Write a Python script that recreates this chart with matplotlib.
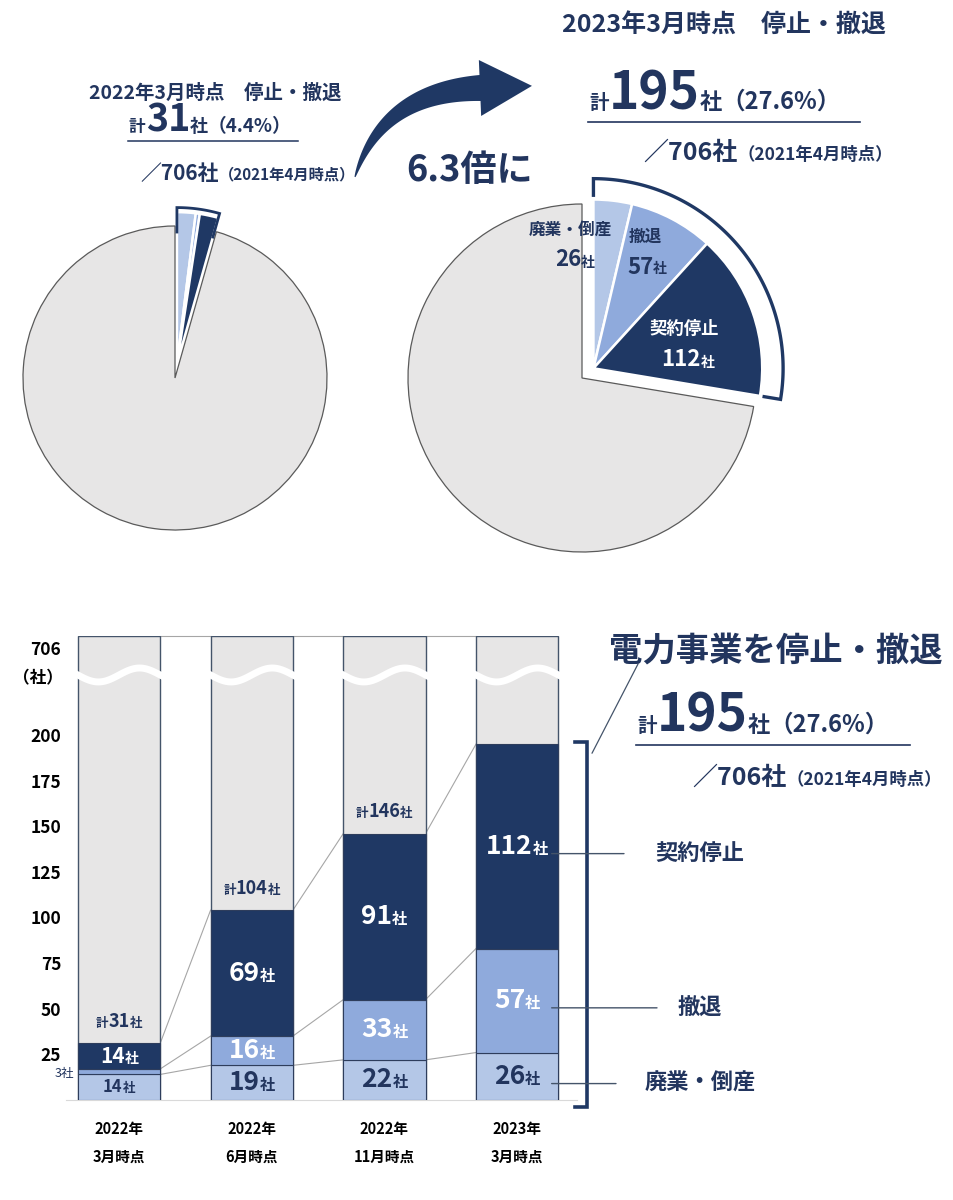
import numpy as np
import matplotlib
matplotlib.use('Agg')
import matplotlib.pyplot as plt
from matplotlib.offsetbox import TextArea, HPacker, AnnotationBbox
from matplotlib.patches import ConnectionPatch
from matplotlib.transforms import blended_transform_factory as blend

FONT = ['Noto Sans CJK JP', 'DejaVu Sans']
plt.rcParams['font.family'] = FONT

# ---------------- data ----------------
period_year = ['2022年', '2022年', '2022年', '2023年']
period_month = ['3月時点', '6月時点', '11月時点', '3月時点']
haigyo = [14, 19, 22, 26]    # 廃業・倒産
tettai = [3, 16, 33, 57]     # 撤退
teishi = [14, 69, 91, 112]   # 契約停止
base_total = 706             # 2021年4月時点
yticks = [25, 50, 75, 100, 125, 150, 175, 200]
seg_names = ['廃業・倒産', '撤退', '契約停止']

NAVY = '#1F3864'
MED = '#8FAADC'
LIGHT = '#B4C7E7'
GRAY = '#E7E6E6'
TXT = '#22355E'

W, H = 954, 1200
fig = plt.figure(figsize=(W / 100, H / 100), dpi=100)


def fr(px, py, w, h):
    return [px / W, 1 - (py + h) / H, w / W, h / H]


ov = fig.add_axes([0, 0, 1, 1], zorder=10)
ov.set_xlim(0, W)
ov.set_ylim(H, 0)
ov.axis('off')


def mtext(ax, xy, parts, coords, align=(0.5, 0.5), color=TXT, weight='bold', offset=None):
    kids = [TextArea(s, textprops=dict(fontsize=fs, color=color, fontweight=weight))
            for s, fs in parts]
    box = HPacker(children=kids, align='baseline', pad=0, sep=0)
    kw = {}
    if offset is not None:
        kw = dict(xybox=offset, boxcoords='offset pixels')
    ab = AnnotationBbox(box, xy, xycoords=coords, box_alignment=align,
                        frameon=False, pad=0, annotation_clip=False, **kw)
    ax.add_artist(ab)
    return ab


totals = [a + b + c for a, b, c in zip(haigyo, tettai, teishi)]


# ---------------- pies ----------------
def draw_pie(cx, cy, r, idx, shift_px, r_col, br_r, br_in, lw_br, lim=1.35):
    vals = [haigyo[idx], tettai[idx], teishi[idx]]
    rest = base_total - sum(vals)
    side = 2 * lim * r
    ax = fig.add_axes(fr(cx - lim * r, cy - lim * r, side, side))
    wedges, _ = ax.pie(vals + [rest], colors=[LIGHT, MED, NAVY, GRAY], startangle=90,
                       counterclock=False,
                       wedgeprops=dict(edgecolor='white', linewidth=1.8))
    frac = sum(vals) / base_total
    a_end = np.deg2rad(90 - 360 * frac)
    mid = np.deg2rad(90 - 180 * frac)
    d = shift_px / r
    c = (d * np.cos(mid), d * np.sin(mid))
    for w in wedges[:3]:
        w.set_center(c)
        w.set_radius(r_col)
    wedges[3].set_edgecolor('#5A5A5A')
    wedges[3].set_linewidth(0.9)
    th = np.linspace(np.pi / 2, a_end, 120)
    bx = np.concatenate([[c[0] + br_in * np.cos(np.pi / 2)], c[0] + br_r * np.cos(th),
                         [c[0] + br_in * np.cos(a_end)]])
    by = np.concatenate([[c[1] + br_in * np.sin(np.pi / 2)], c[1] + br_r * np.sin(th),
                         [c[1] + br_in * np.sin(a_end)]])
    ax.plot(bx, by, color=NAVY, lw=lw_br, solid_joinstyle='miter', solid_capstyle='butt')
    ax.set_xlim(-lim, lim)
    ax.set_ylim(-lim, lim)
    ax.set_aspect('equal')
    ax.axis('off')
    return ax


draw_pie(175, 378, 152, 0, 14, 1.0, 1.03, 0.86, 2.0)
draw_pie(582, 378, 174, 3, 15, 0.97, 1.09, 0.985, 2.4)

# pie labels (right)
ov.text(570, 230, seg_names[0], ha='center', va='center', fontsize=12, color=TXT, fontweight='bold')
mtext(ov, (575, 260), [(str(haigyo[3]), 16), ('社', 10)], 'data')
ov.text(645, 237, seg_names[1], ha='center', va='center', fontsize=12, color=TXT, fontweight='bold')
mtext(ov, (647, 267), [(str(tettai[3]), 16), ('社', 10)], 'data')
ov.text(684, 329, seg_names[2], ha='center', va='center', fontsize=12.5, color='white', fontweight='bold')
mtext(ov, (688, 360), [(str(teishi[3]), 16), ('社', 10)], 'data', color='white')

# top texts
pct0 = totals[0] / base_total * 100
pct3 = totals[3] / base_total * 100
ov.text(215, 93, '2022年3月時点　停止・撤退', ha='center', va='center', fontsize=14,
        color=TXT, fontweight='bold')
mtext(ov, (129, 140), [('計', 12), (str(totals[0]), 27), ('社', 13), (f'（{pct0:.1f}%）', 13.5)],
      'data', align=(0, 0))
ov.plot([128, 298], [141, 141], color=TXT, lw=1.1)
mtext(ov, (140, 173), [('／706社', 15), ('（2021年4月時点）', 11)], 'data', align=(0, 0.5))

ov.text(724, 26, '2023年3月時点　停止・撤退', ha='center', va='center', fontsize=18,
        color=TXT, fontweight='bold')
mtext(ov, (589, 120), [('計', 14), (str(totals[3]), 37), ('社', 16), (f'（{pct3:.1f}%）', 17)],
      'data', align=(0, 0))
ov.plot([588, 860], [122, 122], color=TXT, lw=1.2)
mtext(ov, (643, 153), [('／706社', 18), ('（2021年4月時点）', 12.5)], 'data', align=(0, 0.5))

ratio = totals[3] / totals[0]
ov.text(470, 170, f'{ratio:.1f}倍に', ha='center', va='center', fontsize=26, color=TXT,
        fontweight='bold')

# curved tapering arrow (decoration, pixel layout)
P0 = np.array([355.0, 177.0])
P1 = np.array([382.0, 92.0])
P2 = np.array([480.0, 88.0])
tt = np.linspace(0, 1, 80)[:, None]
B = (1 - tt) ** 2 * P0 + 2 * (1 - tt) * tt * P1 + tt ** 2 * P2
D = 2 * (1 - tt) * (P1 - P0) + 2 * tt * (P2 - P1)
D = D / np.linalg.norm(D, axis=1, keepdims=True)
N = np.column_stack([-D[:, 1], D[:, 0]])
wid = 1.0 + 25.0 * tt[:, 0] ** 0.8
up = B + N * (wid[:, None] / 2)
lo = B - N * (wid[:, None] / 2)
de, ne = D[-1], N[-1]
head = np.array([P2 + ne * 28, P2 + de * 52, P2 - ne * 28])
poly = np.vstack([up, head, lo[::-1]])
ov.fill(poly[:, 0], poly[:, 1], color=NAVY, lw=0)

# ---------------- bars ----------------
axb = fig.add_axes(fr(64, 636, 519.5, 464))
k = 0.1072


def fwd(y):
    y = np.asarray(y, float)
    return np.where(y <= 200, y, 200 + (y - 200) * k)


def inv(t):
    t = np.asarray(t, float)
    return np.where(t <= 200, t, 200 + (t - 200) / k)


axb.set_yscale('function', functions=(fwd, inv))
x = np.arange(len(period_year))
bw = 0.62
b1 = np.array(haigyo)
b2 = b1 + np.array(tettai)
b3 = b2 + np.array(teishi)
axb.bar(x, base_total, bw, color=GRAY, edgecolor='#44546A', lw=1.0, zorder=2)
axb.bar(x, haigyo, bw, color=LIGHT, edgecolor='#2E3D5C', lw=0.8, zorder=3)
axb.bar(x, tettai, bw, bottom=b1, color=MED, edgecolor='#2E3D5C', lw=0.8, zorder=3)
axb.bar(x, teishi, bw, bottom=b2, color=NAVY, edgecolor='#2E3D5C', lw=0.8, zorder=3)
axb.set_ylim(0, base_total)
axb.set_xlim(-0.4145, 3.5)

# connecting lines
for lev in [b1, b2, b3, np.full(4, base_total)]:
    for i in range(len(x) - 1):
        axb.plot([x[i] + bw / 2, x[i + 1] - bw / 2], [lev[i], lev[i + 1]], color='#A6A6A6',
                 lw=0.8, zorder=1, clip_on=False)

# wave breaks
tw = blend(axb.transData, axb.transAxes)
for i in x:
    t = np.linspace(-0.06, 1.06, 80)
    xs = i - bw / 2 + t * bw
    ys = 0.916 - 0.015 * np.sin(2 * np.pi * t)
    axb.plot(xs, ys, color='white', lw=5, transform=tw, zorder=5, clip_on=False,
             solid_capstyle='butt')

axb.set_yticks(yticks)
axb.set_yticklabels([str(v) for v in yticks], fontsize=12.5, fontweight='bold')
axb.set_xticks(x)
axb.set_xticklabels([f'{a}\n{b}' for a, b in zip(period_year, period_month)], fontsize=10.5,
                    fontweight='bold', linespacing=1.9)
axb.tick_params(length=0, pad=2)
axb.tick_params(axis='x', pad=15)
for s in ['top', 'right', 'left']:
    axb.spines[s].set_visible(False)
axb.spines['bottom'].set_color('#D9D9D9')
axb.spines['bottom'].set_bounds(-0.4, 3.45)
ty = blend(axb.transAxes, axb.transData)
axb.annotate('706', xy=(0, base_total), xycoords=ty, xytext=(-3, -14), textcoords='offset pixels',
             ha='right', va='center', fontsize=12.5, fontweight='bold')
axb.annotate('（社）', xy=(0, base_total), xycoords=ty, xytext=(-1, -42), textcoords='offset pixels',
             ha='right', va='center', fontsize=12, fontweight='bold')

# value labels
for i in x:
    if i == 0:
        mtext(axb, (i, b2[i] + teishi[i] / 2), [(str(teishi[i]), 15), ('社', 10)], 'data',
              color='white')
        mtext(axb, (i, haigyo[i] / 2), [(str(haigyo[i]), 12), ('社', 9)], 'data')
        axb.annotate(f'{tettai[i]}社', xy=(i - bw / 2, b1[i] + tettai[i] / 2), xycoords='data',
                     xytext=(-4, -2), textcoords='offset pixels', ha='right', va='center',
                     fontsize=9, color=TXT)
    else:
        mtext(axb, (i, b2[i] + teishi[i] / 2), [(str(teishi[i]), 19), ('社', 11)], 'data',
              color='white')
        mtext(axb, (i, b1[i] + tettai[i] / 2), [(str(tettai[i]), 19), ('社', 11)], 'data',
              color='white')
        mtext(axb, (i, haigyo[i] / 2), [(str(haigyo[i]), 19), ('社', 11)], 'data')
    if i < len(x) - 1:
        mtext(axb, (i, b3[i]), [('計', 9), (str(totals[i]), 13), ('社', 9)], 'data',
              align=(0.5, 0.5), offset=(0, 22))

# right side annotations
last = len(x) - 1
bx_tr = blend(ov.transData, axb.transData)
mids = [haigyo[last] / 2, b1[last] + tettai[last] / 2, b2[last] + teishi[last] / 2]
line_end = [616, 657, 624]
for name, m, le in zip(seg_names, mids, line_end):
    yv = m - 4
    cp = ConnectionPatch(xyA=(last + 0.26, yv), coordsA=axb.transData, xyB=(le, yv),
                         coordsB=bx_tr, color='#44546A', lw=1.0, zorder=6)
    axb.add_artist(cp)
    axb.text(700, yv, name, transform=bx_tr, ha='center', va='center', fontsize=16,
             color=TXT, fontweight='bold', clip_on=False)

# bracket
axb.plot([575, 587, 587, 575], [b3[last] + 1, b3[last] + 1, -4, -4], transform=bx_tr,
         color=NAVY, lw=2.6, clip_on=False, solid_joinstyle='miter')
cp = ConnectionPatch(xyA=(592, b3[last] - 5), coordsA=bx_tr, xyB=(638, 664), coordsB=ov.transData,
                     color='#44546A', lw=0.9, zorder=6)
axb.add_artist(cp)

ov.text(609, 651, '電力事業を停止・撤退', ha='left', va='center', fontsize=24, color=TXT,
        fontweight='bold')
mtext(ov, (637, 743), [('計', 14), (str(totals[3]), 37), ('社', 16), (f'（{pct3:.1f}%）', 17)],
      'data', align=(0, 0))
ov.plot([636, 910], [745, 745], color=TXT, lw=1.2)
mtext(ov, (692, 778), [('／706社', 18), ('（2021年4月時点）', 12.5)], 'data', align=(0, 0.5))

fig.savefig('out.png', dpi=100)
